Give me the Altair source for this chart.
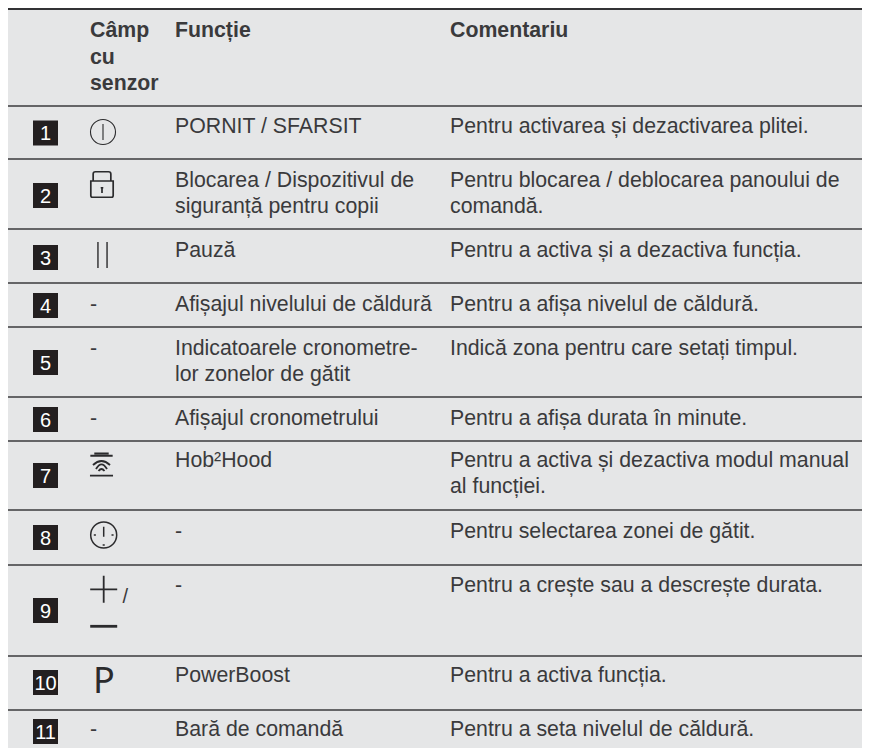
import altair as alt
import pandas as pd

W, H = 854, 740
BG = "#e5e6e7"
INK = "#3a3a3c"
FONT = "Liberation Sans"
C2, C3, C4 = 90, 175, 450
FS = 21.3

# Text, one entry per printed line: (column, y of baseline in page px, text)
header_lines = [
    (C2, 37, "Câmp"), (C2, 63.5, "cu"), (C2, 90, "senzor"),
    (C3, 37, "Funcție"), (C4, 37, "Comentariu"),
]
body_lines = [
    (C3, 133, "PORNIT / SFARSIT"), (C4, 133, "Pentru activarea și dezactivarea plitei."),
    (C3, 187, "Blocarea / Dispozitivul de"), (C3, 213, "siguranță pentru copii"),
    (C4, 187, "Pentru blocarea / deblocarea panoului de"), (C4, 213, "comandă."),
    (C3, 257, "Pauză"), (C4, 257, "Pentru a activa și a dezactiva funcția."),
    (C2, 311, "-"), (C3, 311, "Afișajul nivelului de căldură"), (C4, 311, "Pentru a afișa nivelul de căldură."),
    (C2, 355, "-"), (C3, 355, "Indicatoarele cronometre-"), (C3, 381, "lor zonelor de gătit"),
    (C4, 355, "Indică zona pentru care setați timpul."),
    (C2, 425, "-"), (C3, 425, "Afișajul cronometrului"), (C4, 425, "Pentru a afișa durata în minute."),
    (C3, 467, "Hob²Hood"), (C4, 467, "Pentru a activa și dezactiva modul manual"), (C4, 493, "al funcției."),
    (C3, 538, "-"), (C4, 538, "Pentru selectarea zonei de gătit."),
    (C3, 592, "-"), (C4, 592, "Pentru a crește sau a descrește durata."),
    (C3, 682, "PowerBoost"), (C4, 682, "Pentru a activa funcția."),
    (C2, 736, "-"), (C3, 736, "Bară de comandă"), (C4, 736, "Pentru a seta nivelul de căldură."),
]
row_rules = [106, 159, 229, 283, 327, 397, 441, 510, 565, 656, 710]
badge_labels = ["1", "2", "3", "4", "5", "6", "7", "8", "9", "10", "11"]
badge_centers = [133, 195.5, 257.5, 305.5, 362.5, 419.5, 475.5, 537.5, 610.5, 682.5, 731.5]

x = alt.X("x:Q", scale=alt.Scale(domain=[8, 862], range=[0, W], nice=False, zero=False), axis=None)
y = alt.Y("y:Q", scale=alt.Scale(domain=[8, 748], range=[0, H], nice=False, zero=False), axis=None)

background = alt.Chart(pd.DataFrame({"x": [8], "x2": [862], "y": [8], "y2": [748]})).mark_rect(color=BG).encode(
    x=x, x2="x2:Q", y=y, y2="y2:Q")

rules = alt.Chart(pd.DataFrame({"y": row_rules, "x": 8, "x2": 862})).mark_rule(color=INK, strokeWidth=1.5).encode(
    x=x, x2="x2:Q", y=y)
top_rule = alt.Chart(pd.DataFrame({"y": [8.5], "x": 8, "x2": 862})).mark_rule(color="#333335", strokeWidth=3).encode(
    x=x, x2="x2:Q", y=y)

header = alt.Chart(pd.DataFrame(header_lines, columns=["x", "y", "t"])).mark_text(
    font=FONT, fontSize=FS, fontWeight="bold", align="left", baseline="alphabetic", color=INK
).encode(x=x, y=y, text="t:N")
body = alt.Chart(pd.DataFrame(body_lines, columns=["x", "y", "t"])).mark_text(
    font=FONT, fontSize=FS, align="left", baseline="alphabetic", color=INK
).encode(x=x, y=y, text="t:N")

badge_df = pd.DataFrame({"x": 45.5, "y": badge_centers, "t": badge_labels})
badges = alt.Chart(badge_df).mark_square(size=625, color="#231f20", opacity=1).encode(x=x, y=y)
badge_text = alt.Chart(badge_df).mark_text(
    font=FONT, fontSize=20, color="white", align="center", baseline="middle", dy=1
).encode(x=x, y=y, text="t:N")

# Icon outlines in the unit square used by custom symbols
POWER = "M-1,0 A1,1 0 1,1 1,0 A1,1 0 1,1 -1,0 Z M0,-0.64 L0,0.64"
LOCK = ("M-0.68,-0.27 L-0.68,-0.8 Q-0.68,-0.98 -0.5,-0.98 L0.5,-0.98 Q0.68,-0.98 0.68,-0.8 L0.68,-0.27 "
        "M-0.86,-0.27 L0.86,-0.27 L0.86,0.85 Q0.86,0.98 0.73,0.98 L-0.73,0.98 Q-0.86,0.98 -0.86,0.85 Z "
        "M0,0.2 L0,0.65 M-0.1,0.25 L0.1,0.25")
PAUSE = "M-0.35,-1 L-0.35,1 M0.35,-1 L0.35,1"
HOOD = ("M-0.93,-0.77 L0.93,-0.77 M-0.6,-0.96 L0.6,-0.96 M-0.96,0.89 L0.96,0.89 "
        "M-0.71,0 Q0,-0.67 0.71,0 M-0.46,0.33 Q0,-0.45 0.46,0.33 M-0.25,0.5 Q0,0.17 0.25,0.5")
CLOCK = ("M-1,0 A1,1 0 1,1 1,0 A1,1 0 1,1 -1,0 Z M0,-0.64 L0,0.13 "
         "M-0.76,0 L-0.6,0 M0.6,0 L0.76,0 M-0.08,0.77 L0.08,0.77")
PLUS = "M-1,0 L1,0 M0,-1 L0,1"
MINUS = "M-1,0 L1,0"

icon_rows = [
    (103, 132, 25, POWER, 1.1),
    (102, 184.5, 26, LOCK, 1.7),
    (102.5, 255, 26, PAUSE, 1.4),
    (101.5, 465, 24, HOOD, 1.8),
    (103.7, 535, 26, CLOCK, 1.5),
    (103.7, 589.3, 27, PLUS, 1.8),
    (103.7, 626.3, 27, MINUS, 2.8),
]
icons = [
    alt.Chart(pd.DataFrame({"x": [ix], "y": [iy]})).mark_point(
        shape=shape, size=s ** 2, filled=False, color="#2b2b2d", strokeWidth=sw, opacity=1
    ).encode(x=x, y=y)
    for ix, iy, s, shape, sw in icon_rows
]
slash = alt.Chart(pd.DataFrame({"x": [122.5], "y": [603], "t": ["/"]})).mark_text(
    font=FONT, fontSize=20, align="left", baseline="alphabetic", color=INK
).encode(x=x, y=y, text="t:N")
p_glyph = alt.Chart(pd.DataFrame({"x": [93], "y": [693], "t": ["P"]})).mark_text(
    font="Noto Sans", fontSize=36, align="left", baseline="alphabetic", color="#2b2b2d"
).encode(x=x, y=y, text="t:N")

chart = alt.layer(
    background, rules, top_rule, header, body, badges, badge_text, *icons, slash, p_glyph
).properties(
    width=W, height=H, padding=0, autosize=alt.AutoSizeParams(type="none"), background="white"
).configure_view(stroke=None)

chart.save("out.html", embed_options={"renderer": "svg", "actions": False})
